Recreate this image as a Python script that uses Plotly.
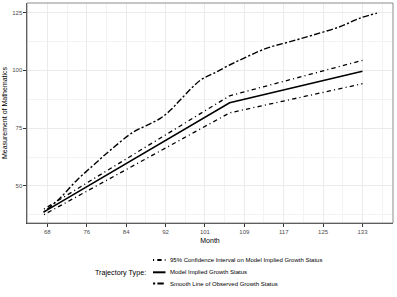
import plotly.graph_objects as go

# ---- data ----
model_month = [67.3, 105.6, 133.0]
model_value = [38.8, 86.0, 99.6]
ci_upper_value = [40.0, 89.0, 104.3]
ci_lower_value = [37.6, 81.6, 94.2]

smooth_month = [67.2, 70.5, 74.0, 77.6, 81.0, 85.8, 88.6, 91.3, 93.4, 95.5,
                99.6, 102.3, 105.6, 109.2, 113.3, 118.1, 122.9, 128.4, 132.5, 136.0]
smooth_value = [38.6, 44.5, 52.3, 59.2, 65.5, 73.4, 76.3, 79.2, 82.8, 87.4,
                95.8, 98.7, 102.3, 105.9, 109.6, 112.4, 115.3, 118.9, 122.6, 124.7]

x_tickvals = [68 + 8.125 * k for k in range(9)]
x_ticktext = ["68", "76", "84", "92", "101", "109", "117", "125", "133"]
y_tickvals = [50, 75, 100, 125]

legend_labels = ["95% Confidence Interval on Model Implied Growth Status",
                 "Model Implied Growth Status",
                 "Smooth Line of Observed Growth Status"]
legend_title = "Trajectory Type:"

# ---- styles ----
FONT = "Liberation Sans, Arial, sans-serif"
DOTDASH = "1.1px,3.2px,4.3px,3.2px"
TWODASH = "2.2px,2.2px,6.4px,2.2px"

W, H = 397, 297
L, R, T, B = 27, 4, 3, 74
PW, PH = W - L - R, H - T - B


def xp(px):
    return (px - L) / PW


def yp(py):
    return (H - B - py) / PH


fig = go.Figure()
fig.add_trace(go.Scatter(x=model_month, y=ci_upper_value, mode="lines",
                         line=dict(color="black", width=1.3, dash=DOTDASH), showlegend=False))
fig.add_trace(go.Scatter(x=model_month, y=ci_lower_value, mode="lines",
                         line=dict(color="black", width=1.3, dash=DOTDASH), showlegend=False))
fig.add_trace(go.Scatter(x=model_month, y=model_value, mode="lines",
                         line=dict(color="black", width=1.6), showlegend=False))
fig.add_trace(go.Scatter(x=smooth_month, y=smooth_value, mode="lines", line_shape="spline",
                         line=dict(color="black", width=1.4, dash=TWODASH), showlegend=False))

axis_common = dict(
    showgrid=True, gridcolor="#ebebeb", gridwidth=1,
    zeroline=False, ticks="outside", ticklen=2.5, tickwidth=1, tickcolor="#333333",
    showline=True, linecolor="#333333", linewidth=1.1, mirror=False,
    tickfont=dict(family=FONT, size=6, color="#4d4d4d"),
)

fig.update_xaxes(
    range=[63.8, 139.3], tickmode="array", tickvals=x_tickvals, ticktext=x_ticktext,
    minor=dict(tick0=68 - 4.0625, dtick=8.125, showgrid=True, gridcolor="#f3f3f3", gridwidth=0.6, ticklen=0),
    title=dict(text="Month", font=dict(family=FONT, size=7, color="black"), standoff=4),
    **axis_common)
fig.update_yaxes(
    range=[34, 129.1], tickmode="array", tickvals=y_tickvals,
    minor=dict(tick0=37.5, dtick=25, showgrid=True, gridcolor="#f3f3f3", gridwidth=0.6, ticklen=0),
    title=dict(text="Measurement of Mathematics", font=dict(family=FONT, size=7, color="black"), standoff=3),
    **axis_common)

shapes = [dict(type="rect", xref="paper", yref="paper", x0=0, x1=1, y0=0, y1=1,
               line=dict(color="#8c8c8c", width=1), layer="above")]
annotations = [dict(text=legend_title, xref="paper", yref="paper", x=xp(148), y=yp(272.3),
                    xanchor="right", yanchor="middle", showarrow=False,
                    font=dict(family=FONT, size=7.2, color="black"))]
key_rows = [260.0, 272.3, 283.6]
key_dash = [DOTDASH, "solid", TWODASH]
for row_y, label, dash in zip(key_rows, legend_labels, key_dash):
    shapes.append(dict(type="line", xref="paper", yref="paper",
                       x0=xp(153), x1=xp(165.5), y0=yp(row_y), y1=yp(row_y),
                       line=dict(color="black", width=2, dash=dash)))
    annotations.append(dict(text=label, xref="paper", yref="paper", x=xp(168), y=yp(row_y),
                            xanchor="left", yanchor="middle", showarrow=False,
                            font=dict(family=FONT, size=6, color="black")))

fig.update_layout(
    template="none",
    width=W, height=H, margin=dict(l=L, r=R, t=T, b=B),
    paper_bgcolor="white", plot_bgcolor="white",
    font=dict(family=FONT, color="black"),
    shapes=shapes, annotations=annotations, showlegend=False,
)

fig.write_html("out.html", config={"displayModeBar": False},
               post_script="document.body.style.margin='0';document.body.style.padding='0';")
